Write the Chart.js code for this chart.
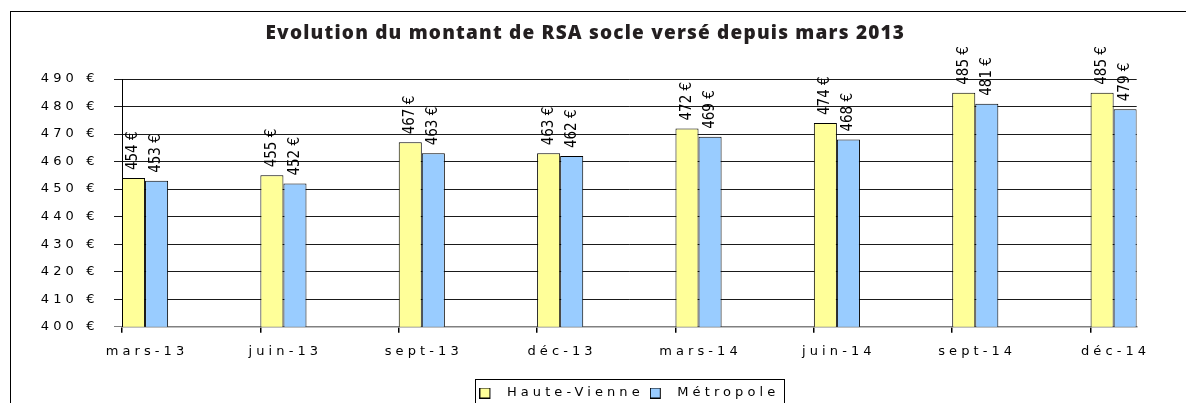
<!DOCTYPE html>
<html><head><meta charset="utf-8">
<script src="https://cdn.jsdelivr.net/npm/chart.js@4/dist/chart.umd.min.js"></script>
<style>html,body{margin:0;padding:0;background:#fff;overflow:hidden}canvas{display:block}</style>
</head><body>
<canvas id="c" width="1186" height="403"></canvas>
<script>
// ---- data ----
const categories = ['mars-13', 'juin-13', 'sept-13', 'déc-13', 'mars-14', 'juin-14', 'sept-14', 'déc-14'];
const hauteVienne = [454, 455, 467, 463, 472, 474, 485, 485];
const metropole = [453, 452, 463, 462, 469, 468, 481, 479];
const yTickValues = [400, 410, 420, 430, 440, 450, 460, 470, 480, 490];
const seriesNames = ['Haute-Vienne', 'Métropole'];
const titleText = 'Evolution du montant de RSA socle versé depuis mars 2013';

// ---- layout constants ----
const GROUP = 1 / 3;          // width of a bar pair, in category units (Excel-style: pair starts at tick)
const LS = '4.1px';           // letter spacing of axis / legend text
const euro = v => v + ' €';

function swatch(color) {
  const c = document.createElement('canvas');
  c.width = 21; c.height = 11;
  const g = c.getContext('2d');
  g.fillStyle = color; g.fillRect(0.5, 0.5, 10, 10);
  g.strokeStyle = '#000'; g.lineWidth = 1; g.strokeRect(0.5, 0.5, 10, 10);
  return c;
}

const toPoints = arr => arr.map((v, i) => ({ x: i + GROUP / 2, y: v }));

const stylePlugin = {
  id: 'stylePlugin',
  beforeUpdate(chart) { chart.ctx.letterSpacing = LS; },
  beforeDraw(chart) {
    const ctx = chart.ctx;
    ctx.save();
    ctx.letterSpacing = '0px';
    ctx.fillStyle = '#fff'; ctx.fillRect(0, 0, chart.width, chart.height);
    ctx.strokeStyle = '#000'; ctx.lineWidth = 1;
    ctx.strokeRect(10.5, 11.5, chart.width + 50, chart.height + 50);
    ctx.restore();
    ctx.letterSpacing = LS;
    const tb = chart.titleBlock;
    if (tb && !tb._patched) {
      const orig = tb.draw;
      tb.draw = function (...a) {
        const c = chart.ctx; c.save(); c.letterSpacing = '1.2px';
        orig.apply(this, a); c.restore();
      };
      tb._patched = true;
    }
  },
  afterDatasetsDraw(chart) {
    const ctx = chart.ctx;
    chart.data.datasets.forEach((ds, di) => {
      const meta = chart.getDatasetMeta(di);
      meta.data.forEach((bar, i) => {
        ctx.save();
        ctx.letterSpacing = '0px';
        ctx.font = '15px "DejaVu Sans Condensed", "Liberation Sans Narrow", sans-serif';
        ctx.fillStyle = '#000';
        ctx.translate(bar.x, bar.y - 8);
        ctx.rotate(-Math.PI / 2);
        ctx.textAlign = 'left'; ctx.textBaseline = 'middle';
        ctx.fillText(euro(ds.data[i].y), 0, 0);
        ctx.restore();
      });
    });
  },
  afterDraw(chart) {
    const hb = chart.legend && chart.legend.legendHitBoxes;
    if (!hb || !hb.length) return;
    const ctx = chart.ctx;
    const last = hb[hb.length - 1];
    const left = Math.round(hb[0].left - 4) + 0.5;
    const right = Math.round(last.left + last.width + 5) + 0.5;
    const top = Math.round(hb[0].top - 7.5) + 0.5;
    ctx.save();
    ctx.strokeStyle = '#000'; ctx.lineWidth = 1;
    ctx.strokeRect(left, top, right - left, 60);
    ctx.restore();
  }
};

new Chart(document.getElementById('c'), {
  type: 'bar',
  data: {
    datasets: [
      { label: seriesNames[0], data: toPoints(hauteVienne), backgroundColor: '#FFFF99', borderColor: '#000', borderWidth: 1, borderSkipped: false, pointStyle: swatch('#FFFF99') },
      { label: seriesNames[1], data: toPoints(metropole), backgroundColor: '#99CCFF', borderColor: '#000', borderWidth: 1, borderSkipped: false, pointStyle: swatch('#99CCFF') }
    ]
  },
  options: {
    responsive: false,
    animation: false,
    events: [],
    categoryPercentage: GROUP,
    barPercentage: 1,
    layout: { padding: { left: 10, right: 25.3, top: 12, bottom: -6.5 } },
    plugins: {
      title: {
        display: true, text: titleText, color: '#231f20',
        font: { family: '"Open Sans", sans-serif', size: 19, weight: 800, lineHeight: 1.2 },
        padding: { top: 10, bottom: 34.2 }
      },
      legend: {
        position: 'bottom', fullSize: false,
        labels: {
          usePointStyle: true, pointStyleWidth: 21, boxHeight: 11,
          padding: 6, color: '#000',
          font: { family: '"DejaVu Sans", sans-serif', size: 13, lineHeight: 1 }
        }
      },
      tooltip: { enabled: false }
    },
    scales: {
      x: {
        type: 'linear', offset: false, min: 0, max: categories.length - 1 + GROUP,
        afterBuildTicks: s => { s.ticks = categories.map((_, i) => ({ value: i })); },
        afterFit: s => { s.height = 53.8; },
        ticks: {
          callback: v => categories[v], labelOffset: 25, padding: 11,
          maxRotation: 0, autoSkip: false, color: '#000',
          font: { family: '"DejaVu Sans", sans-serif', size: 13 }
        },
        grid: { offset: false, drawOnChartArea: false, drawTicks: true, tickLength: 6, color: '#000', lineWidth: 1.5 },
        border: { display: true, color: '#808080', width: 1.5 }
      },
      y: {
        min: yTickValues[0], max: yTickValues[yTickValues.length - 1],
        afterBuildTicks: s => { s.ticks = yTickValues.map(v => ({ value: v })); },
        afterFit: s => { s.width = 112; },
        ticks: {
          callback: v => euro(v), padding: 15.5, color: '#000',
          font: { family: '"DejaVu Sans", sans-serif', size: 13 }
        },
        grid: { color: ctx => (ctx.tick && ctx.tick.value === yTickValues[0]) ? '#808080' : '#1a1a1a', tickLength: 8, lineWidth: 1 },
        border: { display: true, color: '#000', width: 1 }
      },
      y2: {
        position: 'right', display: true,
        afterFit: s => { s.width = 24; },
        ticks: { display: false }, grid: { display: false }, border: { display: false }
      }
    }
  },
  plugins: [stylePlugin]
});
</script></body></html>
